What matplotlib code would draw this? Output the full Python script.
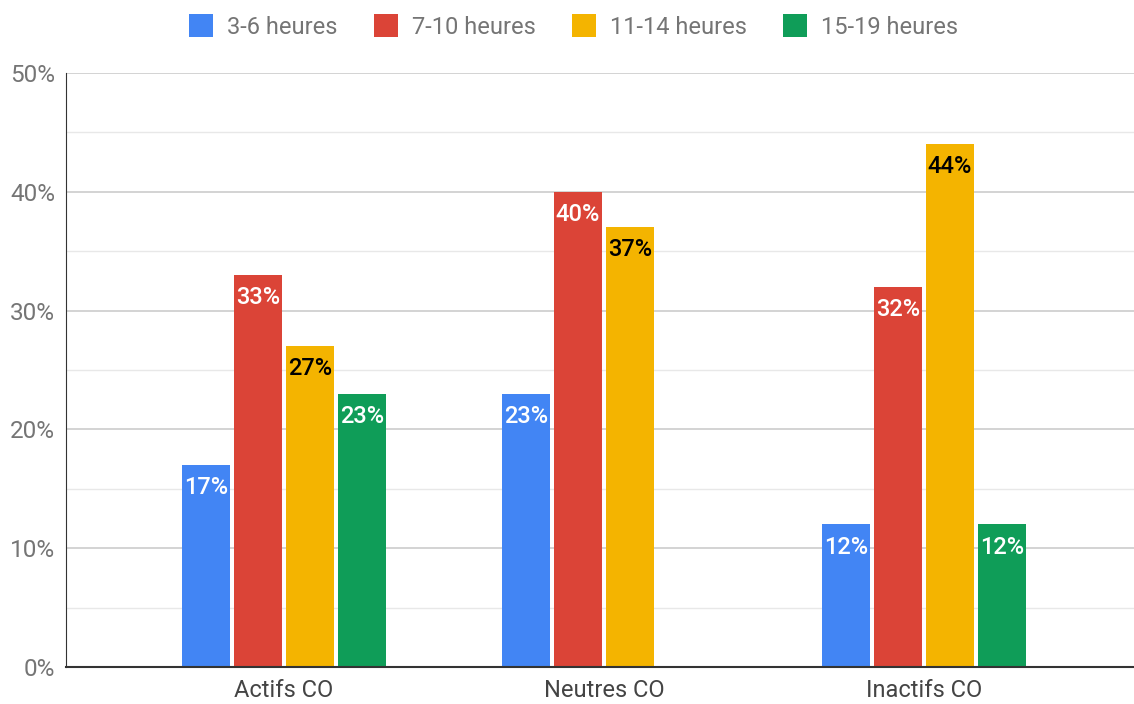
import numpy as np
import matplotlib.pyplot as plt
from matplotlib.ticker import MultipleLocator, PercentFormatter

plt.rcParams['font.family'] = ['Roboto', 'DejaVu Sans']

groups = ["Actifs CO", "Neutres CO", "Inactifs CO"]
series = ["3-6 heures", "7-10 heures", "11-14 heures", "15-19 heures"]
colors = ["#4285f4", "#db4437", "#f4b400", "#0f9d58"]
label_colors = ["white", "white", "black", "white"]
values = {
    "3-6 heures":   [17, 23, 12],
    "7-10 heures":  [33, 40, 32],
    "11-14 heures": [27, 37, 44],
    "15-19 heures": [23, 0, 12],
}

fig = plt.figure(figsize=(11.34, 7.04), dpi=100)
ax = fig.add_axes([0.0582, 0.0526, 0.9418, 0.8438])

x = np.arange(len(groups))
step = 52 / 320
width = 48 / 320
for i, (name, col, lc) in enumerate(zip(series, colors, label_colors)):
    pos = x + (i - 1.5) * step
    bars = ax.bar(pos, values[name], width, color=col, label=name, zorder=3)
    for b, v in zip(bars, values[name]):
        if v <= 0:
            continue
        ax.annotate(f"{v}%", (b.get_x() + b.get_width() / 2, v),
                    xytext=(0, -8), textcoords="offset points",
                    ha="center", va="top", color=lc, fontsize=17,
                    fontweight="medium", zorder=4)

ax.set_xlim(-0.681, 2.656)
ax.set_ylim(0, 50)
ax.yaxis.set_major_locator(MultipleLocator(10))
ax.yaxis.set_minor_locator(MultipleLocator(5))
ax.yaxis.set_major_formatter(PercentFormatter(decimals=0))
ax.grid(axis="y", which="major", color="#cccccc", linewidth=1.2, zorder=0)
ax.grid(axis="y", which="minor", color="#e8e8e8", linewidth=1.0, zorder=0)

ax.set_xticks(x, groups)
ax.tick_params(axis="x", length=0, pad=9, labelsize=17, labelcolor="#444444")
ax.tick_params(axis="y", which="both", length=0, pad=8, labelsize=17.5, labelcolor="#757575")

for s in ["top", "right"]:
    ax.spines[s].set_visible(False)
ax.spines["left"].set_color("#333333")
ax.spines["bottom"].set_color("#333333")
ax.spines["bottom"].set_linewidth(1.5)
ax.spines["bottom"].set_zorder(5)

leg = fig.legend(loc="upper center", bbox_to_anchor=(0.506, 1.01), ncol=4, frameon=False,
                 fontsize=17, handlelength=1.0, handleheight=1.1, handletextpad=0.6,
                 columnspacing=1.55)
for t in leg.get_texts():
    t.set_color("#757575")

fig.savefig("out.png", dpi=100)
